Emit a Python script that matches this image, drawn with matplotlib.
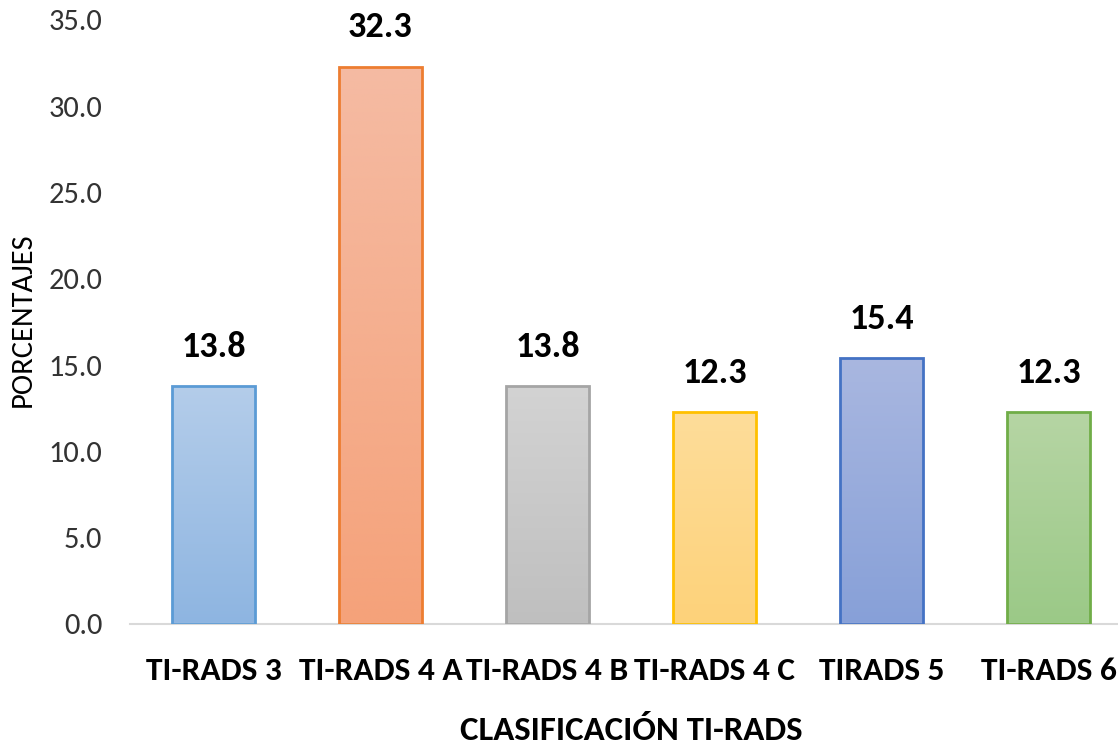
import matplotlib
matplotlib.use('Agg')
import matplotlib.pyplot as plt
import numpy as np
from matplotlib import font_manager
from matplotlib.colors import LinearSegmentedColormap

# Data
categories = ['TI-RADS 3', 'TI-RADS 4 A', 'TI-RADS 4 B', 'TI-RADS 4 C', 'TIRADS 5', 'TI-RADS 6']
percentages = [13.8, 32.3, 13.8, 12.3, 15.4, 12.3]
y_ticks = [0, 5, 10, 15, 20, 25, 30, 35]

# Colours (gradient top, gradient bottom, edge)
top_colors = ['#b4cdea', '#f5bba3', '#d3d3d3', '#fedd9a', '#a9b7e0', '#b6d5a4']
bottom_colors = ['#8eb5e1', '#f5a27a', '#bfbfbf', '#fdd27a', '#87a0d8', '#9bc987']
edge_colors = ['#5b9bd5', '#ed7d31', '#a5a5a5', '#ffc000', '#4472c4', '#70ad47']

# Calibri look-alike if present, otherwise Liberation Sans (a bit smaller, it runs wider)
installed = {f.name for f in font_manager.fontManager.ttflist}
if 'Carlito' in installed:
    font = 'Carlito'
    scale = 1.0
else:
    font = 'Liberation Sans'
    scale = 0.82

fig = plt.figure(figsize=(11.18, 7.49), dpi=100)
W, H = 1118, 749
ax = fig.add_axes([130 / W, 1 - 624 / H, 1002 / W, (624 - 20) / H])

x = np.arange(len(categories))
bar_width = 0.5

bars = ax.bar(x, percentages, bar_width, color=top_colors, edgecolor='none', zorder=2)

# gradient fill clipped to each bar
grad = np.linspace(0, 1, 256).reshape(-1, 1)
for i, b in enumerate(bars):
    cmap = LinearSegmentedColormap.from_list('g%d' % i, [top_colors[i], bottom_colors[i]])
    x0, w, h = b.get_x(), b.get_width(), b.get_height()
    im = ax.imshow(grad, extent=[x0, x0 + w, 0, h], aspect='auto', cmap=cmap,
                   origin='upper', zorder=2.5, interpolation='bicubic')
    im.set_clip_path(b)

ax.bar(x, percentages, bar_width, facecolor='none', edgecolor=edge_colors, linewidth=2, zorder=3)

# value labels
for xi, v in zip(x, percentages):
    ax.annotate(f'{v:.1f}', (xi, v), xytext=(0, 21), textcoords='offset points',
                ha='center', va='baseline', fontsize=26 * scale, fontweight='bold',
                family=font, color='black')

ax.set_xlim(-0.5, len(categories) - 0.5)
ax.set_ylim(0, 35)
ax.set_yticks(y_ticks)
ax.set_yticklabels([f'{t:.1f}' for t in y_ticks], family=font, fontsize=22 * scale, color='#333333')
ax.set_xticks(x)
ax.set_xticklabels(categories, family=font, fontsize=24 * scale, fontweight='bold')
ax.tick_params(axis='both', length=0)
ax.tick_params(axis='x', pad=24)
ax.tick_params(axis='y', pad=20)

for s in ['top', 'right', 'left']:
    ax.spines[s].set_visible(False)
ax.spines['bottom'].set_color('#d9d9d9')
ax.spines['bottom'].set_linewidth(1.5)

ax.set_xlabel('CLASIFICACIÓN TI-RADS', family=font, fontsize=25 * scale, fontweight='bold', labelpad=22)
fig.text(23 / W, 1 - 320 / H, 'PORCENTAJES', rotation=90, ha='center', va='center',
         family=font, fontsize=22 * scale, color='black')

fig.savefig('out.png', dpi=100)
